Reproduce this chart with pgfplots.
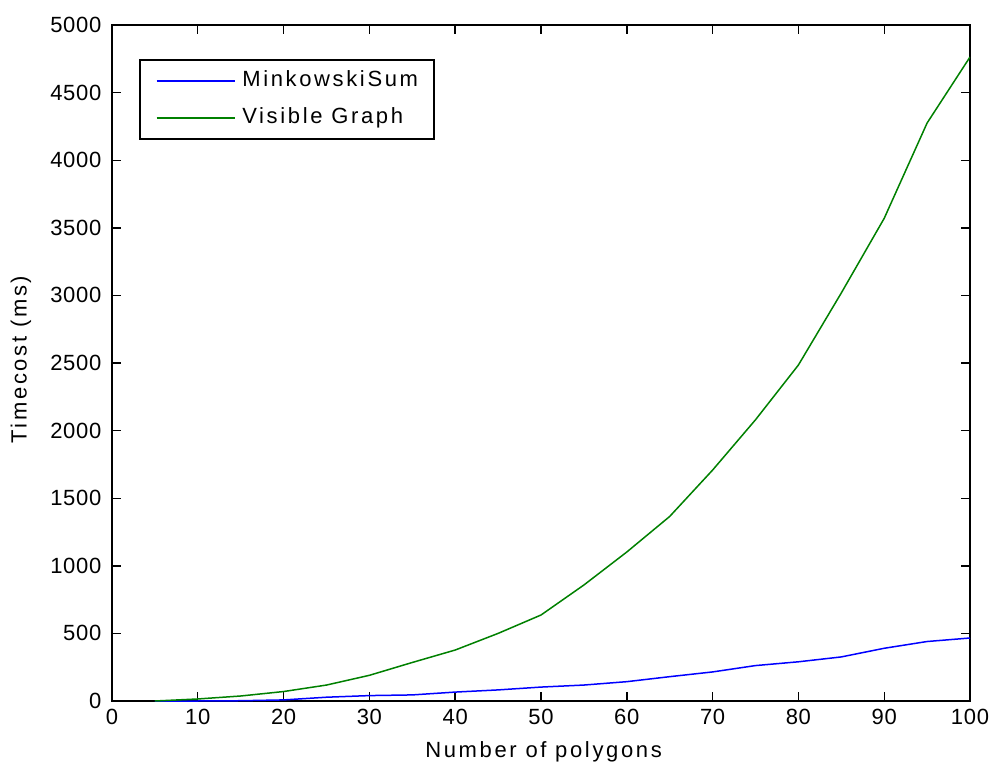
\documentclass[border=0pt]{standalone}
\usepackage{fontspec}
\setmainfont{Liberation Sans}[LetterSpace=3]
\newfontfamily\lblfont{Liberation Sans}[LetterSpace=12]
\usepackage{pgfplots}
\pgfplotsset{compat=1.18}

\definecolor{mblue}{rgb}{0,0,1}
\definecolor{mgreen}{rgb}{0,0.5,0}

\begin{document}
\fontsize{11}{13}\selectfont
\begin{tikzpicture}
\begin{axis}[
  scale only axis,
  width=429pt, height=338pt,
  xmin=0, xmax=100, ymin=0, ymax=5000,
  xtick={0,10,...,100},
  ytick={0,500,...,5000},
  tick align=inside,
  major tick length=4.3pt,
  tick style={black, line width=0.7pt},
  axis line style={line width=0.9pt},
  scaled y ticks=false,
  /pgf/number format/assume math mode=true,
  /pgf/number format/set thousands separator={},
  tick label style={font=\fontsize{11}{13}\selectfont},
  yticklabel style={xshift=-1.5pt},
  xlabel={Number of polygons},
  ylabel={Timecost (ms)},
  every axis x label/.style={at={(axis description cs:0.503,-0.0754)}, anchor=center,
    font=\lblfont\fontsize{11}{13}\selectfont},
  every axis y label/.style={at={(axis description cs:-0.106,0.505)}, rotate=90, anchor=center,
    font=\lblfont\fontsize{11}{13}\selectfont},
  legend style={at={(axis description cs:0.0315,0.9497)}, anchor=north west, draw=black,
    line width=0.8pt, font=\lblfont\fontsize{11}{13}\selectfont,
    inner xsep=8pt, inner ysep=5pt, row sep=7.5pt, column sep=3.5pt,
    nodes={inner sep=0pt, text height=8.25pt, text depth=2.75pt},
    cells={anchor=west}},
  legend image code/.code={\draw[#1, line width=0.75pt] (0pt,0pt) -- (39pt,0pt);},
]
\addplot[color=mblue, line width=0.75pt] coordinates {
(5,0) (10,0) (15,2) (20,8) (25,28) (30,40) (35,45) (40,66) (45,82) (50,103)
(55,118) (60,143) (65,180) (70,215) (75,262) (80,290) (85,326) (90,390) (95,440) (100,466)
};
\addlegendentry{MinkowskiSum}
\addplot[color=mgreen, line width=0.75pt] coordinates {
(5,0) (10,15) (15,37) (20,70) (25,118) (30,190) (35,285) (40,377) (45,500) (50,636)
(55,858) (60,1102) (65,1365) (70,1708) (75,2080) (80,2485) (85,3018) (90,3570) (95,4275) (100,4763)
};
\addlegendentry{Visible Graph}
\end{axis}
\pgfresetboundingbox
\path[use as bounding box] (-56pt,-33pt) rectangle (440pt,350.5pt);
\end{tikzpicture}
\end{document}
